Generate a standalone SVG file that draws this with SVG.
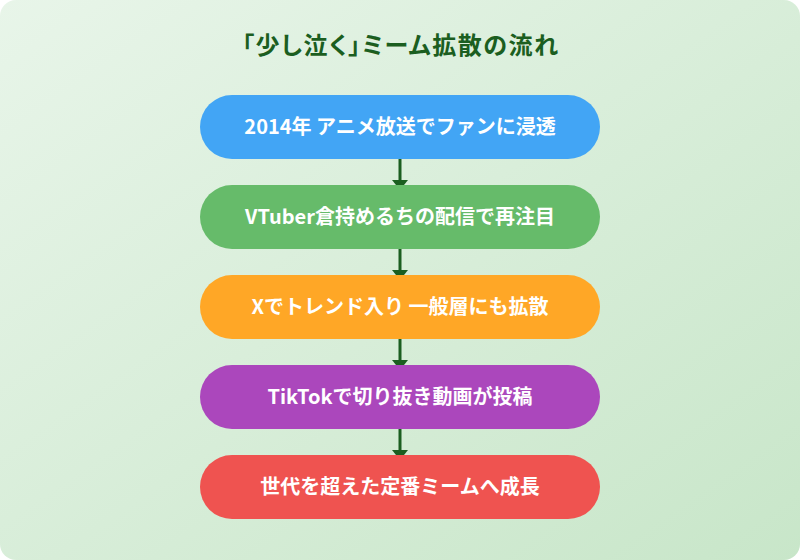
<svg xmlns="http://www.w3.org/2000/svg" width="800" height="560" viewBox="0 0 800 560">
  <defs>
    <linearGradient id="bg" x1="0" y1="0" x2="1" y2="1">
      <stop offset="0" stop-color="#e8f5e9"/>
      <stop offset="1" stop-color="#c8e6c9"/>
    </linearGradient>
    <marker id="arrow" markerUnits="userSpaceOnUse" markerWidth="10" markerHeight="16" viewBox="0 0 10 16" refX="10" refY="8" orient="auto">
      <path d="M0,0 L10,8 L0,16 z" fill="#1b5e20"/>
    </marker>
    <style>
      .title { font-family: "Noto Sans CJK JP", "Noto Sans", sans-serif; font-weight: bold; font-size: 24px; fill: #1b5e20; text-anchor: middle; font-feature-settings: "palt"; letter-spacing: 1.5px; }
      .label { font-family: "Noto Sans CJK JP", "Noto Sans", sans-serif; font-weight: bold; font-size: 20px; fill: #ffffff; text-anchor: middle; }
      .conn { stroke: #1b5e20; stroke-width: 3; fill: none; }
    </style>
  </defs>
  <rect x="0" y="0" width="800" height="560" rx="16" ry="16" fill="url(#bg)"/>
  <text class="title" x="400.75" y="54">「少し泣く」ミーム拡散の流れ</text>
  <g id="connectors">
    <line class="conn" x1="400" y1="159" x2="400" y2="190" marker-end="url(#arrow)"/>
    <line class="conn" x1="400" y1="249" x2="400" y2="280" marker-end="url(#arrow)"/>
    <line class="conn" x1="400" y1="339" x2="400" y2="370" marker-end="url(#arrow)"/>
    <line class="conn" x1="400" y1="429" x2="400" y2="460" marker-end="url(#arrow)"/>
  </g>
  <g id="node1">
    <rect x="200" y="95" width="400" height="64" rx="32" ry="32" fill="#42a5f5"/>
    <text class="label" x="400" y="134">2014年 アニメ放送でファンに浸透</text>
  </g>
  <g id="node2">
    <rect x="200" y="185" width="400" height="64" rx="32" ry="32" fill="#66bb6a"/>
    <text class="label" x="400" y="224">VTuber倉持めるちの配信で再注目</text>
  </g>
  <g id="node3">
    <rect x="200" y="275" width="400" height="64" rx="32" ry="32" fill="#ffa726"/>
    <text class="label" x="400" y="314">Xでトレンド入り 一般層にも拡散</text>
  </g>
  <g id="node4">
    <rect x="200" y="365" width="400" height="64" rx="32" ry="32" fill="#ab47bc"/>
    <text class="label" x="400" y="404">TikTokで切り抜き動画が投稿</text>
  </g>
  <g id="node5">
    <rect x="200" y="455" width="400" height="64" rx="32" ry="32" fill="#ef5350"/>
    <text class="label" x="400" y="494">世代を超えた定番ミームへ成長</text>
  </g>
</svg>
